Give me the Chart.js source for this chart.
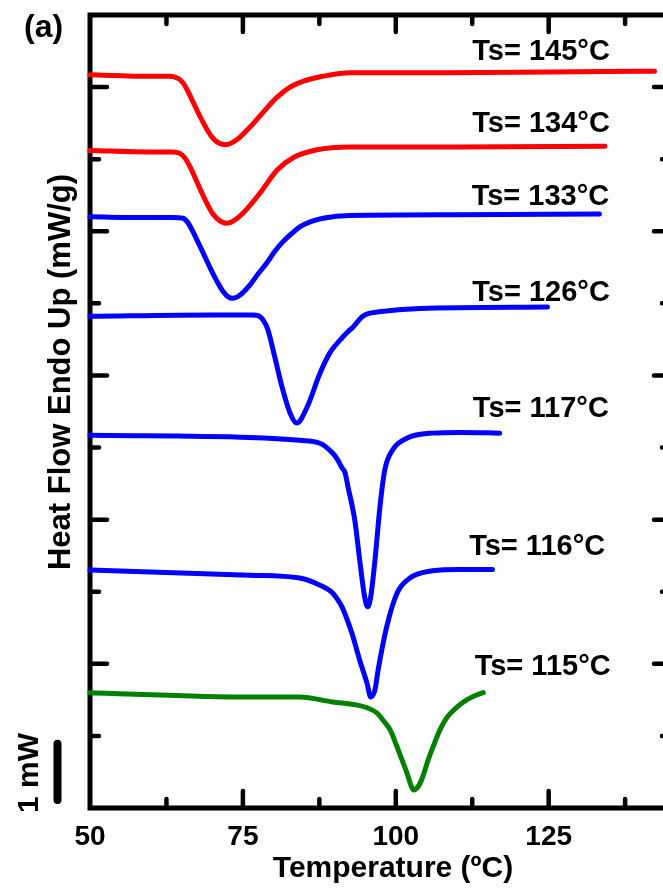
<!DOCTYPE html>
<html>
<head>
<meta charset="utf-8">
<script src="https://cdn.jsdelivr.net/npm/chart.js@4.4.1/dist/chart.umd.min.js"></script>
<style>
  html, body { margin: 0; padding: 0; background: #fff; overflow: hidden; }
  #wrap { width: 663px; height: 888px; overflow: hidden; position: relative; background: #fff; }
  #c { display: block; }
</style>
</head>
<body>
<div id="wrap"><canvas id="c" width="700" height="888"></canvas></div>
<script>
// DSC traces after self-nucleation at different Ts (°C)
const FONT = '"Liberation Sans", Arial, Helvetica, sans-serif';

// Temperature axis tick labels
const xTickValues = [50, 75, 100, 125];

// Ts = 145 °C
const t145  = [50.0, 59.8, 63.1, 64.4, 65.2, 65.9, 68.0, 70.1, 72.1, 74.0, 76.2, 78.3, 80.6, 82.7, 84.8, 88.1, 92.5, 108.8, 125.2, 142.3];
const hf145 = [10.17, 10.15, 10.15, 10.12, 10.06, 9.96, 9.59, 9.29, 9.20, 9.27, 9.45, 9.65, 9.86, 10.00, 10.08, 10.15, 10.20, 10.20, 10.21, 10.22];

// Ts = 134 °C
const t134  = [50.0, 59.8, 63.4, 64.7, 65.5, 66.2, 68.2, 69.1, 70.1, 71.3, 72.4, 73.4, 75.0, 77.8, 80.6, 83.2, 87.1, 92.5, 110.0, 134.2];
const hf134 = [9.12, 9.10, 9.10, 9.08, 9.02, 8.92, 8.55, 8.39, 8.24, 8.14, 8.11, 8.14, 8.25, 8.53, 8.85, 9.02, 9.13, 9.17, 9.17, 9.18];

// Ts = 133 °C
const t133  = [50.0, 59.8, 63.4, 65.2, 66.0, 66.8, 67.6, 68.5, 69.6, 70.8, 71.8, 72.6, 73.3, 74.1, 75.0, 76.2, 77.5, 78.9, 80.2, 81.6, 83.0, 84.3, 86.0, 88.1, 92.5, 110.0, 133.3];
const hf133 = [8.20, 8.19, 8.19, 8.18, 8.12, 8.00, 7.86, 7.70, 7.50, 7.30, 7.16, 7.09, 7.07, 7.09, 7.15, 7.26, 7.41, 7.56, 7.72, 7.86, 7.97, 8.06, 8.13, 8.18, 8.22, 8.23, 8.24];

// Ts = 126 °C
const t126  = [50.0, 70.0, 76.6, 77.5, 78.3, 79.1, 80.2, 81.4, 82.7, 83.8, 85.5, 87.6, 89.2, 91.3, 92.2, 93.0, 93.8, 94.6, 95.6, 96.9, 103.9, 124.8];
const hf126 = [6.82, 6.84, 6.84, 6.83, 6.77, 6.63, 6.26, 5.84, 5.48, 5.34, 5.56, 6.03, 6.31, 6.53, 6.61, 6.67, 6.75, 6.82, 6.86, 6.88, 6.93, 6.95];

// Ts = 117 °C
const t117  = [50.0, 76.1, 84.3, 87.6, 89.7, 90.5, 91.2, 91.7, 92.2, 93.3, 94.1, 94.9, 95.4, 95.9, 96.6, 97.4, 98.2, 99.5, 101.8, 106.0, 110.5, 117.0];
const hf117 = [5.17, 5.14, 5.10, 5.06, 4.92, 4.83, 4.72, 4.65, 4.45, 3.99, 3.44, 2.93, 2.79, 2.93, 3.44, 4.17, 4.69, 4.97, 5.13, 5.20, 5.21, 5.20];

// Ts = 116 °C
const t116  = [50.0, 76.1, 84.3, 87.6, 89.7, 90.5, 91.2, 92.8, 94.1, 95.3, 95.9, 96.6, 97.1, 98.5, 100.2, 102.3, 106.0, 110.5, 115.8];
const hf116 = [3.30, 3.23, 3.19, 3.09, 2.98, 2.89, 2.79, 2.43, 2.05, 1.73, 1.54, 1.64, 1.91, 2.51, 2.98, 3.19, 3.29, 3.31, 3.31];

// Ts = 115 °C
const t115  = [50.0, 76.1, 84.3, 89.7, 93.5, 95.3, 96.9, 97.9, 99.1, 100.2, 101.0, 101.8, 102.6, 102.9, 103.6, 104.4, 105.3, 106.1, 107.2, 108.4, 110.0, 111.6, 113.3, 114.3];
const hf115 = [1.60, 1.54, 1.54, 1.47, 1.43, 1.39, 1.32, 1.22, 1.08, 0.85, 0.67, 0.49, 0.29, 0.25, 0.29, 0.43, 0.67, 0.85, 1.08, 1.26, 1.40, 1.50, 1.57, 1.60];

// Curve labels
const tsLabels = ['Ts= 145°C', 'Ts= 134°C', 'Ts= 133°C', 'Ts= 126°C', 'Ts= 117°C', 'Ts= 116°C', 'Ts= 115°C'];

// Label anchors in data units (left edge temperature, baseline heat flow)
const labelAnchorX = [112.5, 112.5, 112.4, 112.5, 112.6, 112.0, 112.9];
const labelAnchorY = [10.37, 9.38, 8.36, 7.03, 5.42, 3.51, 1.84];

// 1 mW scale bar extent, in heat-flow axis units
const scaleBarFrom = 0.11;
const scaleBarTo = 0.89;

const seriesX = [t145, t134, t133, t126, t117, t116, t115];
const seriesY = [hf145, hf134, hf133, hf126, hf117, hf116, hf115];
const seriesColor = ['#ff0000', '#ff0000', '#0000ff', '#0000ff', '#0000ff', '#0000ff', '#008000'];

const datasets = seriesX.map((xs, i) => ({
  label: tsLabels[i],
  data: xs.map((x, k) => ({ x: x, y: seriesY[i][k] })),
  borderColor: seriesColor[i],
  backgroundColor: seriesColor[i],
  borderWidth: 5,
  pointRadius: 0,
  fill: false,
  cubicInterpolationMode: 'monotone',
  borderCapStyle: 'round',
  borderJoinStyle: 'round',
  clip: 6
}));

// Boxed frame with inward ticks on all four sides, plus annotations
const framePlugin = {
  id: 'frame',
  beforeDatasetsDraw(chart) {
    const { ctx, chartArea: a, scales } = chart;
    const xs = scales.x, ys = scales.y;
    ctx.save();
    ctx.strokeStyle = '#000';
    ctx.lineWidth = 5;
    ctx.lineJoin = 'miter';
    ctx.strokeRect(a.left, a.top, a.right - a.left, a.bottom - a.top);

    ctx.lineWidth = 4.5;
    ctx.lineCap = 'round';
    const major = 17, minor = 9;
    // temperature ticks
    for (let v = xs.min + 12.5; v < xs.max - 0.01; v += 12.5) {
      const px = xs.getPixelForValue(v);
      const len = (v % 25 === 0) ? major : minor;
      ctx.beginPath();
      ctx.moveTo(px, a.bottom); ctx.lineTo(px, a.bottom - len);
      ctx.moveTo(px, a.top); ctx.lineTo(px, a.top + len);
      ctx.stroke();
    }
    // heat-flow ticks
    for (let v = ys.min + 1; v < ys.max - 0.01; v += 1) {
      const py = ys.getPixelForValue(v);
      const len = (v % 2 === 0) ? major : minor;
      ctx.beginPath();
      ctx.moveTo(a.left, py); ctx.lineTo(a.left + len, py);
      ctx.moveTo(a.right, py); ctx.lineTo(a.right - len, py);
      ctx.stroke();
    }
    ctx.restore();
  },
  afterDraw(chart) {
    const { ctx, chartArea: a, scales } = chart;
    const xs = scales.x, ys = scales.y;
    ctx.save();
    ctx.fillStyle = '#000';
    ctx.textBaseline = 'alphabetic';

    // curve labels
    ctx.font = 'bold 29px ' + FONT;
    ctx.textAlign = 'left';
    tsLabels.forEach((txt, i) => {
      ctx.fillText(txt, xs.getPixelForValue(labelAnchorX[i]), ys.getPixelForValue(labelAnchorY[i]));
    });

    // panel tag
    ctx.font = 'bold 32px ' + FONT;
    ctx.fillText('(a)', 24, 37);

    // x axis title
    ctx.textAlign = 'center';
    ctx.font = 'bold 30px ' + FONT;
    ctx.fillText('Temperature (ºC)', 393, 877);

    // y axis title
    ctx.save();
    ctx.translate(70, 372);
    ctx.rotate(-Math.PI / 2);
    ctx.font = 'bold 31px ' + FONT;
    ctx.fillText('Heat Flow Endo Up (mW/g)', 0, 0);
    ctx.restore();

    // scale bar label
    ctx.save();
    ctx.translate(38, 773);
    ctx.rotate(-Math.PI / 2);
    ctx.font = 'bold 30px ' + FONT;
    ctx.fillText('1 mW', 0, 0);
    ctx.restore();

    // scale bar
    ctx.strokeStyle = '#000';
    ctx.lineWidth = 8;
    ctx.lineCap = 'round';
    ctx.beginPath();
    ctx.moveTo(a.left - 32.5, ys.getPixelForValue(scaleBarFrom));
    ctx.lineTo(a.left - 32.5, ys.getPixelForValue(scaleBarTo));
    ctx.stroke();
    ctx.restore();
  }
};

new Chart(document.getElementById('c'), {
  type: 'line',
  data: { datasets },
  options: {
    responsive: false,
    animation: false,
    layout: { padding: { top: 15, right: 29, left: 0, bottom: 0 } },
    plugins: { legend: { display: false }, tooltip: { enabled: false } },
    scales: {
      x: {
        type: 'linear',
        min: 50,
        max: 145,
        grid: { display: false },
        border: { display: false },
        ticks: {
          stepSize: 12.5,
          autoSkip: false,
          maxRotation: 0,
          padding: 4,
          color: '#000',
          font: { family: FONT, size: 28, weight: 'bold' },
          callback: (v) => xTickValues.includes(v) ? String(v) : ''
        },
        afterFit: (s) => { s.height = 80; }
      },
      y: {
        type: 'linear',
        min: 0,
        max: 11,
        grid: { display: false },
        border: { display: false },
        ticks: { display: false, stepSize: 1 },
        afterFit: (s) => { s.width = 90; }
      }
    }
  },
  plugins: [framePlugin]
});
</script>
</body>
</html>
